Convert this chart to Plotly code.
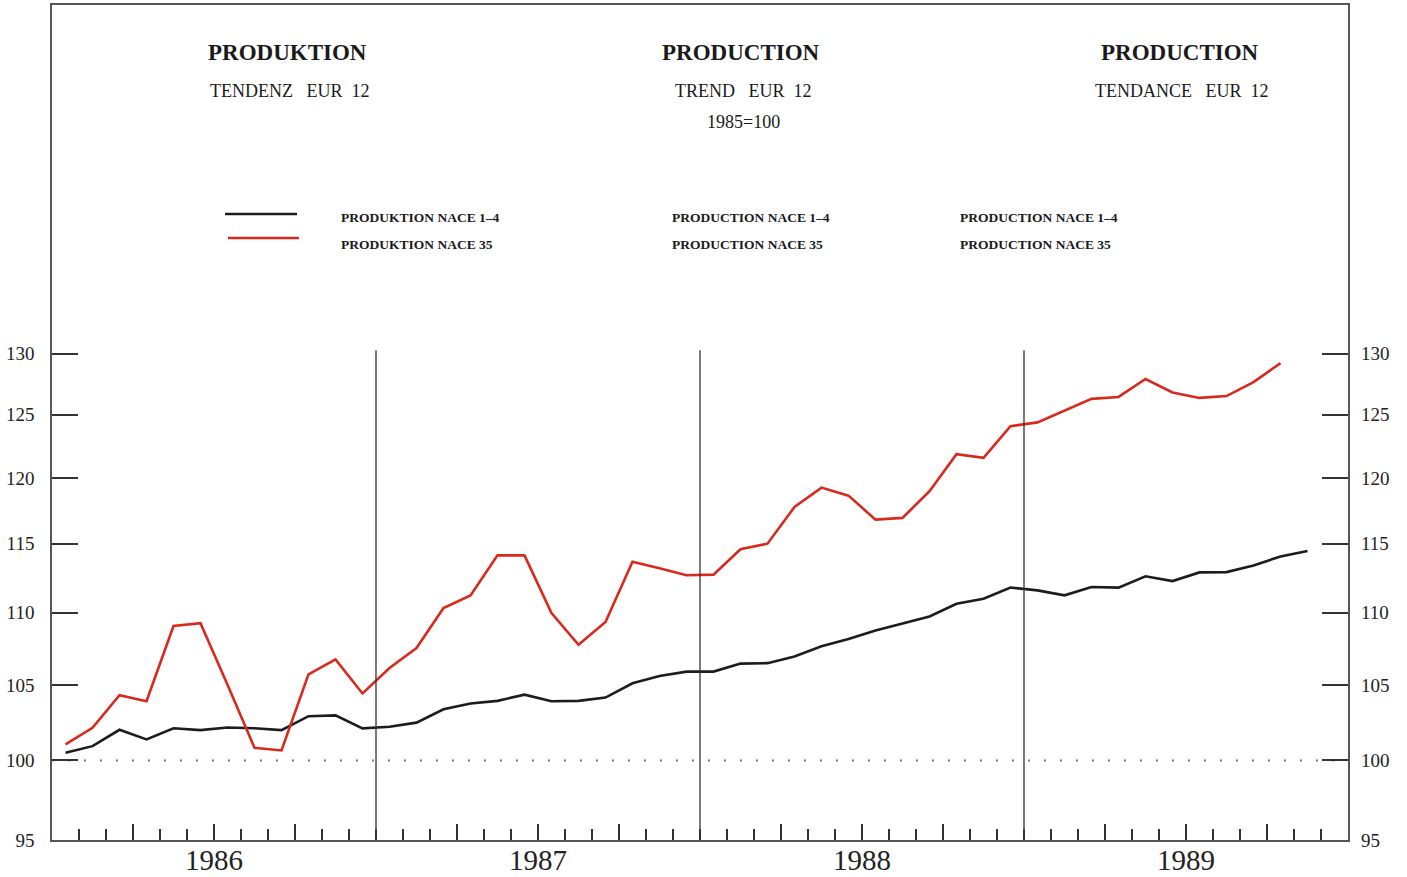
import plotly.graph_objects as go
import math

# ---- data (monthly trend indices, 1985=100) ----
years = ["1986", "1987", "1988", "1989"]
months = [f"{y}-{m:02d}" for y in years for m in range(1, 13)]

nace_1_4 = [100.5, 100.93, 102.0, 101.37, 102.1, 101.98, 102.15, 102.1, 101.98, 102.9,
            102.95, 102.09, 102.2, 102.47, 103.36, 103.74, 103.92, 104.34, 103.9, 103.92,
            104.14, 105.11, 105.6, 105.9, 105.9, 106.45, 106.48, 106.94, 107.64, 108.15,
            108.75, 109.22, 109.74, 110.64, 111.0, 111.8, 111.6, 111.24, 111.84, 111.8,
            112.62, 112.27, 112.9, 112.92, 113.4, 114.07, 114.47]
nace_35 = [101.04, 102.13, 104.3, 103.9, 109.06, 109.26, 105.0, 100.82, 100.65, 105.71,
           106.74, 104.42, 106.15, 107.52, 110.33, 111.24, 114.15, 114.15, 109.98, 107.75,
           109.34, 113.68, 113.2, 112.69, 112.74, 114.6, 115.01, 117.77, 119.25, 118.63,
           116.81, 116.94, 118.97, 121.85, 121.56, 124.07, 124.37, 125.35, 126.27, 126.43,
           127.9, 126.8, 126.35, 126.5, 127.64, 129.22]
y_ticks = [95, 100, 105, 110, 115, 120, 125, 130]
base_value = 100

# month positions (centre of each month on a month-index axis)
x_black = [i + 0.5 for i in range(len(nace_1_4))]
x_red = [i + 0.5 for i in range(len(nace_35))]
n_months = len(months)

FONT = "Liberation Serif"
W, H = 1407, 877
L, R, T, B = 52, 59, 5, 37
PW, PH = W - L - R, H - T - B


def fx(p):
    return (p - L) / PW


def fy(p):
    return (H - B - p) / PH


fig = go.Figure()

# reference line at 1985=100 (dotted)
fig.add_trace(go.Scatter(x=[0, n_months], y=[base_value, base_value], mode="lines",
                         line=dict(color="#7a7a7a", width=1.8, dash="2px,14px"),
                         hoverinfo="skip", showlegend=False, yaxis="y2"))

fig.add_trace(go.Scatter(x=x_black, y=nace_1_4, mode="lines", name="PRODUKTION NACE 1-4",
                         text=months[:len(nace_1_4)],
                         line=dict(color="#1c1c1c", width=2.6), showlegend=False))
fig.add_trace(go.Scatter(x=x_red, y=nace_35, mode="lines", name="PRODUKTION NACE 35",
                         text=months[:len(nace_35)],
                         line=dict(color="#d8291c", width=2.6), showlegend=False))

y_range = [math.log10(95), math.log10(162.8)]

quarter_vals = [12 * k + q for k in range(len(years)) for q in (3, 6, 9)]
quarter_text = [years[k] if q == 6 else "" for k in range(len(years)) for q in (3, 6, 9)]

fig.update_layout(
    template="none",
    width=W, height=H,
    margin=dict(l=L, r=R, t=T, b=B),
    paper_bgcolor="white", plot_bgcolor="white",
    xaxis=dict(range=[0, n_months], tickmode="array", tickvals=quarter_vals,
               ticktext=quarter_text, ticks="inside", ticklen=16, tickwidth=1.5,
               tickcolor="#333", showgrid=False, zeroline=False, showline=True,
               linecolor="#555", linewidth=1.6, mirror=True, automargin=False,
               ticklabelstandoff=-7,
               tickfont=dict(family=FONT, size=29, color="#222"),
               minor=dict(tickmode="linear", tick0=0, dtick=1, ticks="inside",
                          ticklen=11, tickwidth=1.5, tickcolor="#333", showgrid=False)),
    yaxis=dict(type="log", range=y_range, tickmode="array", tickvals=y_ticks,
               ticktext=[str(v) for v in y_ticks], ticks="inside", ticklen=26,
               tickwidth=1.5, tickcolor="#333", showgrid=False, zeroline=False,
               showline=True, linecolor="#555", linewidth=1.6, mirror="ticks",
               automargin=False, ticklabelstandoff=12,
               tickfont=dict(family=FONT, size=19, color="#222")),
    yaxis2=dict(type="log", range=y_range, overlaying="y", side="right",
                tickmode="array", tickvals=y_ticks, ticktext=[str(v) for v in y_ticks],
                ticks="", showgrid=False, zeroline=False, showline=False,
                automargin=False, ticklabelstandoff=12,
                tickfont=dict(family=FONT, size=19, color="#222")),
    showlegend=False,
)

# year separators
for k in range(1, len(years)):
    fig.add_shape(type="line", xref="x", yref="y", x0=12 * k, x1=12 * k, y0=95, y1=130.3,
                  line=dict(color="#333", width=1.3))

# titles
NB = "\u00a0"
titles = [
    ("PRODUKTION", 287, 53, 23, True),
    (f"TENDENZ{NB*3}EUR{NB*2}12", 289, 91, 18, False),
    ("PRODUCTION", 741, 53, 23, True),
    (f"TREND{NB*3}EUR{NB*2}12", 743, 91, 18, False),
    ("1985=100", 743, 122, 18, False),
    ("PRODUCTION", 1180, 53, 23, True),
    (f"TENDANCE{NB*3}EUR{NB*2}12", 1182, 91, 18, False),
]
for txt, x, y, sz, bold in titles:
    fig.add_annotation(text=f"<b>{txt}</b>" if bold else txt, xref="paper", yref="paper",
                       x=fx(x), y=fy(y), xanchor="center", yanchor="middle", showarrow=False,
                       font=dict(family=FONT, size=sz, color="#1a1a1a"))

# legend
legend_cols = [
    (339, ["PRODUKTION NACE 1–4", "PRODUKTION NACE 35"]),
    (670, ["PRODUCTION NACE 1–4", "PRODUCTION NACE 35"]),
    (958, ["PRODUCTION NACE 1–4", "PRODUCTION NACE 35"]),
]
for x, labels in legend_cols:
    for j, lab in enumerate(labels):
        fig.add_annotation(text=f"<b>{lab}</b>", xref="paper", yref="paper",
                           x=fx(x), y=fy(218 + 26 * j), xanchor="left", yanchor="middle",
                           showarrow=False, font=dict(family=FONT, size=13.5, color="#1a1a1a"))

fig.add_shape(type="line", xref="paper", yref="paper", x0=fx(225), x1=fx(297),
              y0=fy(214), y1=fy(214), line=dict(color="#1c1c1c", width=2.6))
fig.add_shape(type="line", xref="paper", yref="paper", x0=fx(228), x1=fx(299),
              y0=fy(238), y1=fy(238), line=dict(color="#d8291c", width=2.6))

fig.write_html("out.html", config={"displayModeBar": False},
               post_script="document.body.style.margin='0px';document.body.style.overflow='hidden';")
